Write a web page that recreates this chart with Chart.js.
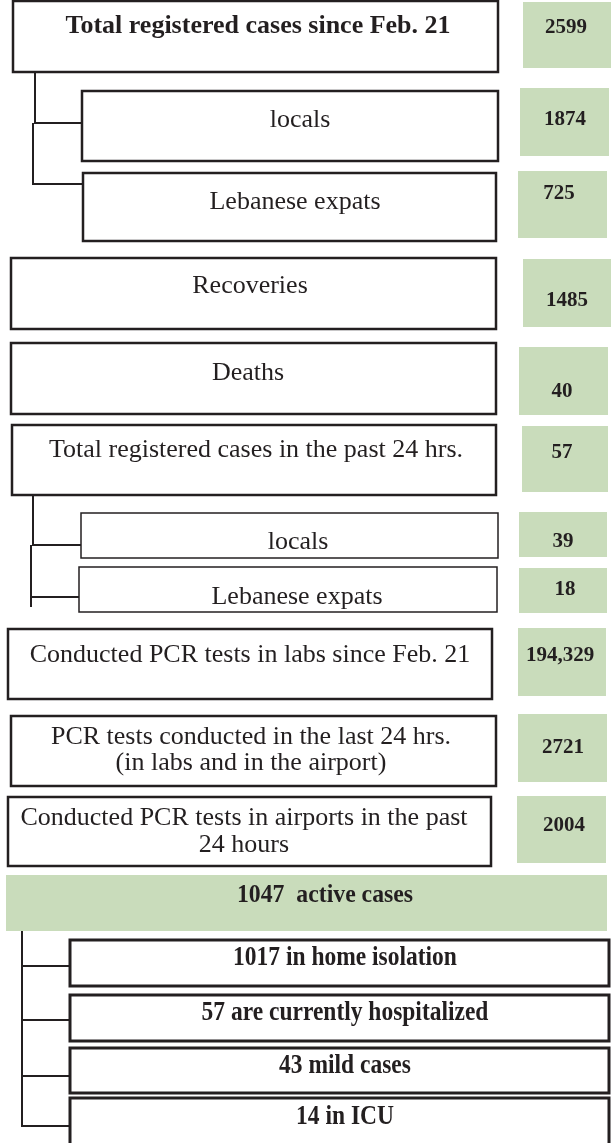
<!DOCTYPE html>
<html>
<head>
<meta charset="utf-8">
<script src="https://cdn.jsdelivr.net/npm/chart.js@4.4.1/dist/chart.umd.min.js"></script>
<style>
  html, body { margin: 0; padding: 0; background: #fff; }
  #board { display: block; }
</style>
</head>
<body>
<canvas id="board" width="613" height="1143"></canvas>
<script>
// data
const fieldLabels = [
    'Total registered cases since Feb. 21',
    'locals',
    'Lebanese expats',
    'Recoveries',
    'Deaths',
    'Total registered cases in the past 24 hrs.',
    'locals',
    'Lebanese expats',
    'Conducted PCR tests in labs since Feb. 21',
    'PCR tests conducted in the last 24 hrs.|(in labs and in the airport)',
    'Conducted PCR tests in airports in the past|24 hours'
];
const fieldValues = [2599, 1874, 725, 1485, 40, 57, 39, 18, 194329, 2721, 2004];

const activeTotal = 1047;
const activeLabel = 'active cases';
const activeCounts = [1017, 57, 43, 14];
const activeLabels = ['in home isolation', 'are currently hospitalized', 'mild cases', 'in ICU'];

// layout (page units, mapped through the chart scales)
// label box: x0, x1, y0, y1, text centre x, baselines, bold, border width
const labelBoxes = [
    [13, 498, 1, 72, 258, [33], true, 2.5],
    [82, 498, 91, 161, 300, [127], false, 2.5],
    [83, 496, 173, 241, 295, [209], false, 2.5],
    [11, 496, 258, 329, 250, [293], false, 2.5],
    [11, 496, 343, 414, 248, [380], false, 2.5],
    [12, 496, 425, 495, 256, [457], false, 2.5],
    [81, 498, 513, 558, 298, [549], false, 1.5],
    [79, 497, 567, 612, 297, [604], false, 1.5],
    [8, 492, 629, 699, 250, [662], false, 2.5],
    [11, 496, 716, 786, 251, [744, 770], false, 2.5],
    [8, 491, 797, 866, 244, [825, 852], false, 2.5]
];
// value box: x0, x1, y0, y1, text centre x, baseline
const valueBoxes = [
    [523, 611, 2, 68, 566, 33],
    [520, 609, 88, 156, 565, 125],
    [518, 607, 171, 238, 559, 199],
    [523, 611, 259, 327, 567, 306],
    [519, 608, 347, 415, 562, 397],
    [522, 608, 426, 492, 562, 458],
    [519, 607, 512, 557, 563, 547],
    [519, 607, 568, 613, 565, 595],
    [518, 606, 628, 696, 560, 661],
    [518, 607, 714, 782, 563, 753],
    [517, 606, 796, 863, 564, 831]
];
const activeBar = [6, 607, 875, 931, 325, 902];
const activeItems = [
    [70, 609, 940, 986, 345, 965],
    [70, 609, 995, 1041, 345, 1020],
    [70, 609, 1048, 1093, 345, 1073],
    [70, 609, 1098, 1160, 345, 1124]
];
const connectors = [
    [[35, 72], [35, 123], [82, 123]],
    [[33, 123], [33, 184], [83, 184]],
    [[33, 495], [33, 545], [81, 545]],
    [[31, 545], [31, 607]],
    [[31, 597], [79, 597]],
    [[22, 931], [22, 1127]],
    [[22, 966], [70, 966]],
    [[22, 1020], [70, 1020]],
    [[22, 1076], [70, 1076]],
    [[22, 1126], [70, 1126]]
];

const INK = '#231f20';
const GREEN = '#c9dcbb';
const SERIF = '"Liberation Serif", "Times New Roman", serif';

function fmt(n) {
    return n >= 10000 ? n.toLocaleString('en-US') : String(n);
}

const infographic = {
    id: 'infographic',
    afterDraw(chart) {
        const ctx = chart.ctx;
        const sx = v => chart.scales.x.getPixelForValue(v);
        const sy = v => chart.scales.y.getPixelForValue(v);

        function rect(b, fill, lw) {
            const x0 = sx(b[0]), x1 = sx(b[1]), y0 = sy(b[2]), y1 = sy(b[3]);
            if (fill) {
                ctx.fillStyle = fill;
                ctx.fillRect(x0, y0, x1 - x0, y1 - y0);
            }
            if (lw) {
                ctx.lineWidth = lw;
                ctx.strokeStyle = INK;
                ctx.strokeRect(x0, y0, x1 - x0, y1 - y0);
            }
        }

        function text(str, x, y, font, scaleX) {
            ctx.save();
            ctx.font = font;
            ctx.fillStyle = INK;
            ctx.textAlign = 'center';
            ctx.textBaseline = 'alphabetic';
            ctx.translate(sx(x), sy(y));
            ctx.scale(scaleX || 1, 1);
            ctx.fillText(str, 0, 0);
            ctx.restore();
        }

        ctx.save();
        // connector lines
        ctx.strokeStyle = INK;
        ctx.lineWidth = 2;
        connectors.forEach(path => {
            ctx.beginPath();
            path.forEach((p, i) => {
                if (i === 0) ctx.moveTo(sx(p[0]), sy(p[1]));
                else ctx.lineTo(sx(p[0]), sy(p[1]));
            });
            ctx.stroke();
        });

        // label boxes
        fieldLabels.forEach((label, i) => {
            const b = labelBoxes[i];
            rect(b, '#fff', b[7]);
            const lines = label.split('|');
            const font = (b[6] ? 'bold ' : '') + '26px ' + SERIF;
            lines.forEach((ln, j) => text(ln, b[4], b[5][j], font, 1));
        });

        // value boxes
        fieldValues.forEach((v, i) => {
            const b = valueBoxes[i];
            rect(b, GREEN, 0);
            text(fmt(v), b[4], b[5], 'bold 20px ' + SERIF, 1.05);
        });

        // active cases
        rect(activeBar, GREEN, 0);
        text(activeTotal + '  ' + activeLabel, activeBar[4], activeBar[5], 'bold 25px ' + SERIF, 0.95);

        activeLabels.forEach((label, i) => {
            const b = activeItems[i];
            rect(b, '#fff', 3);
            text(activeCounts[i] + ' ' + label, b[4], b[5], 'bold 27px ' + SERIF, 0.87);
        });
        ctx.restore();
    }
};

new Chart(document.getElementById('board'), {
    type: 'scatter',
    data: { datasets: [] },
    options: {
        responsive: false,
        animation: false,
        devicePixelRatio: 1,
        layout: { padding: 0 },
        plugins: { legend: { display: false }, tooltip: { enabled: false } },
        scales: {
            x: { type: 'linear', min: 0, max: 613, display: false },
            y: { type: 'linear', min: 0, max: 1143, reverse: true, display: false }
        }
    },
    plugins: [infographic]
});
</script>
</body>
</html>
